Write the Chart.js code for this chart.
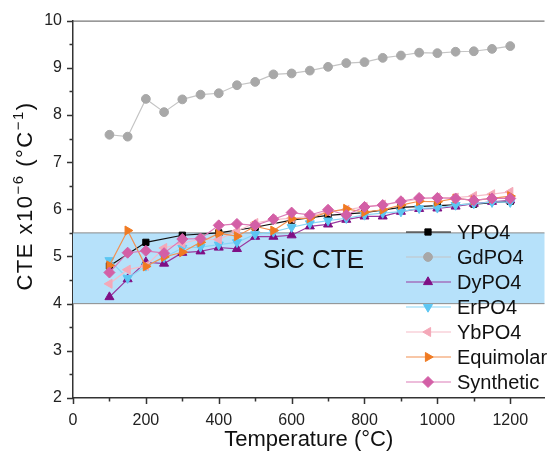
<!DOCTYPE html>
<html>
<head>
<meta charset="utf-8">
<script src="https://cdn.jsdelivr.net/npm/chart.js@4.4.0/dist/chart.umd.min.js"></script>
<style>
  body { margin: 0; background: #fff; }
  #wrap { width: 551px; height: 465px; }
</style>
</head>
<body>
<div id="wrap"><canvas id="cte" width="551" height="465"></canvas></div>
<script>
// temperatures (°C)
const temps = [100, 150, 200, 250, 300, 350, 400, 450, 500, 550, 600, 650,
  700, 750, 800, 850, 900, 950, 1000, 1050, 1100, 1150, 1200];
const tempsYPO4 = [100, 200, 300, 400, 500, 600, 700, 800, 900, 1000, 1100, 1200];

// CTE x10^-6 /°C
const ypo4 = [4.80, 5.30, 5.45, 5.50, 5.62, 5.77, 5.87, 5.93, 6.04, 6.08, 6.11, 6.17];
const gdpo4 = [7.58, 7.54, 8.34, 8.06, 8.33, 8.43, 8.46, 8.63, 8.70, 8.86, 8.88, 8.94,
  9.02, 9.10, 9.12, 9.21, 9.26, 9.32, 9.31, 9.34, 9.35, 9.40, 9.46];
const dypo4 = [4.14, 4.52, 4.88, 4.85, 5.08, 5.11, 5.19, 5.16, 5.42, 5.42, 5.45, 5.64,
  5.68, 5.78, 5.85, 5.85, 5.95, 6.01, 6.02, 6.06, 6.12, 6.16, 6.19];
const erpo4 = [4.92, 4.54, 4.80, 4.98, 5.18, 5.20, 5.25, 5.30, 5.47, 5.52, 5.62, 5.70,
  5.76, 5.81, 5.88, 5.92, 5.95, 6.02, 6.03, 6.09, 6.12, 6.15, 6.15];
const ybpo4 = [4.42, 4.72, 4.80, 5.18, 5.28, 5.37, 5.36, 5.54, 5.71, 5.78, 5.81, 5.85,
  5.95, 5.99, 6.05, 6.10, 6.15, 6.22, 6.25, 6.25, 6.28, 6.32, 6.37];
const equimolar = [4.81, 5.55, 4.79, 4.99, 5.09, 5.30, 5.49, 5.43, 5.64, 5.55, 5.80, 5.81,
  5.94, 6.01, 5.94, 5.99, 6.09, 6.17, 6.16, 6.23, 6.19, 6.23, 6.28];
const synthetic = [4.66, 5.08, 5.12, 5.07, 5.37, 5.38, 5.66, 5.69, 5.66, 5.79, 5.93, 5.88,
  5.99, 5.88, 6.05, 6.09, 6.17, 6.24, 6.24, 6.23, 6.19, 6.23, 6.23];

const sicBand = [4, 5.5];
const sicLabel = 'SiC CTE';
const xTickLabels = [0, 200, 400, 600, 800, 1000, 1200];

const FONT = "'Liberation Sans', Arial, sans-serif";
Chart.defaults.font.family = FONT;
Chart.defaults.color = '#222';

function toPoints(xs, ys) {
  return ys.map((y, i) => ({ x: xs[i], y: y }));
}

function series(label, xs, ys, marker, line, style, rotation, radius, order) {
  return {
    label: label,
    data: toPoints(xs, ys),
    showLine: true,
    borderColor: line,
    borderWidth: 1.2,
    backgroundColor: marker,
    pointBackgroundColor: marker,
    pointBorderColor: marker,
    pointBorderWidth: 1,
    pointStyle: style,
    pointRotation: rotation,
    pointRadius: radius,
    order: order,
  };
}

const datasets = [
  series('YPO4', tempsYPO4, ypo4, '#000000', '#111111', 'rect', 0, 4.4, 7),
  series('GdPO4', temps, gdpo4, '#a8a8a8', '#c4c4c4', 'circle', 0, 4.4, 6),
  series('DyPO4', temps, dypo4, '#7f0f85', '#9a3aa0', 'triangle', 0, 5.2, 5),
  series('ErPO4', temps, erpo4, '#5cc6f2', '#8ad6f5', 'triangle', 180, 5.2, 4),
  series('YbPO4', temps, ybpo4, '#f4a8b8', '#f6bcc8', 'triangle', -90, 5.2, 3),
  series('Equimolar', temps, equimolar, '#f07a22', '#f29050', 'triangle', 90, 5.2, 2),
  series('Synthetic', temps, synthetic, '#d35fa6', '#dc7cb8', 'rectRot', 0, 5.5, 1),
];

// SiC band behind the data
const bandPlugin = {
  id: 'sicBand',
  beforeDatasetsDraw(chart) {
    const { ctx, chartArea, scales } = chart;
    const yTop = scales.y.getPixelForValue(sicBand[1]);
    const yBot = scales.y.getPixelForValue(sicBand[0]);
    ctx.save();
    ctx.fillStyle = '#b6e1fa';
    ctx.fillRect(chartArea.left, yTop, chartArea.right - chartArea.left, yBot - yTop);
    ctx.strokeStyle = '#8a8a8a';
    ctx.lineWidth = 1;
    ctx.beginPath();
    ctx.moveTo(chartArea.left, yTop);
    ctx.lineTo(chartArea.right, yTop);
    ctx.moveTo(chartArea.left, yBot);
    ctx.lineTo(chartArea.right, yBot);
    ctx.stroke();
    ctx.font = '26px ' + FONT;
    ctx.fillStyle = '#111';
    ctx.textAlign = 'center';
    ctx.textBaseline = 'middle';
    ctx.fillText(sicLabel, scales.x.getPixelForValue(660), scales.y.getPixelForValue(4.9));
    ctx.restore();
  }
};

// outward tick marks (major + minor), top frame line, y title with superscripts
const ticksPlugin = {
  id: 'frameTicks',
  afterDraw(chart) {
    const { ctx, chartArea, scales } = chart;
    ctx.save();
    ctx.strokeStyle = '#333';
    ctx.lineWidth = 1.5;
    ctx.beginPath();
    for (let v = 0; v <= 1200; v += 100) {
      const px = Math.round(scales.x.getPixelForValue(v)) + 0.5;
      const len = v % 200 === 0 ? 6 : 3.5;
      ctx.moveTo(px, chartArea.bottom);
      ctx.lineTo(px, chartArea.bottom + len);
    }
    for (let v = 2; v <= 10; v += 0.5) {
      const py = Math.round(scales.y.getPixelForValue(v)) + 0.5;
      const len = v % 1 === 0 ? 6 : 3.5;
      ctx.moveTo(chartArea.left, py);
      ctx.lineTo(chartArea.left - len, py);
    }
    ctx.stroke();
    ctx.lineWidth = 1;
    ctx.strokeStyle = '#555';
    ctx.beginPath();
    ctx.moveTo(chartArea.left, chartArea.top + 0.5);
    ctx.lineTo(chartArea.right, chartArea.top + 0.5);
    ctx.stroke();

    // y axis title: CTE x10^-6 (°C^-1)
    const parts = [['CTE x10', false], ['\u22126', true], [' (°C', false], ['\u22121', true], [')', false]];
    const big = '22px ' + FONT, small = '15px ' + FONT;
    ctx.letterSpacing = '1.5px';
    let total = 0;
    parts.forEach(p => { ctx.font = p[1] ? small : big; total += ctx.measureText(p[0]).width; });
    ctx.translate(32, 196);
    ctx.rotate(-Math.PI / 2);
    ctx.fillStyle = '#111';
    ctx.textAlign = 'left';
    ctx.textBaseline = 'alphabetic';
    let x = -total / 2;
    parts.forEach(p => {
      ctx.font = p[1] ? small : big;
      ctx.fillText(p[0], x, p[1] ? -9 : 0);
      x += ctx.measureText(p[0]).width;
    });
    ctx.restore();
  }
};

// legend drawn inside the plot, lower right
const legendPlugin = {
  id: 'innerLegend',
  afterDraw(chart) {
    const { ctx } = chart;
    ctx.save();
    ctx.font = '20px ' + FONT;
    ctx.textAlign = 'left';
    ctx.textBaseline = 'middle';
    chart.data.datasets.forEach((ds, i) => {
      const y = 232 + i * 25;
      ctx.strokeStyle = ds.borderColor;
      ctx.lineWidth = 1.2;
      ctx.beginPath();
      ctx.moveTo(406, y);
      ctx.lineTo(451, y);
      ctx.stroke();
      ctx.fillStyle = ds.pointBackgroundColor;
      ctx.strokeStyle = ds.pointBorderColor;
      ctx.lineWidth = 1;
      Chart.helpers.drawPoint(ctx, {
        pointStyle: ds.pointStyle,
        rotation: ds.pointRotation,
        radius: ds.pointRadius,
        borderWidth: 1,
      }, 428, y);
      ctx.fillStyle = '#111';
      ctx.fillText(ds.label, 457, y + 1);
    });
    ctx.restore();
  }
};

new Chart(document.getElementById('cte'), {
  type: 'scatter',
  data: { datasets: datasets },
  options: {
    responsive: false,
    animation: false,
    layout: { padding: { top: 11, right: 0, bottom: 0, left: 0 } },
    plugins: {
      legend: { display: false },
      tooltip: { enabled: false },
    },
    scales: {
      x: {
        type: 'linear',
        min: 0,
        max: 1294,
        afterBuildTicks: (axis) => { axis.ticks = xTickLabels.map(v => ({ value: v })); },
        afterFit: (axis) => { axis.height = 67; },
        grid: { display: false, drawTicks: false },
        border: { display: true, color: '#333', width: 1.5 },
        ticks: { padding: 13, font: { size: 16 }, color: '#222', callback: (v) => String(v) },
        title: {
          display: true,
          text: 'Temperature (°C)',
          font: { size: 22 },
          color: '#111',
          padding: { top: 0, bottom: 12 },
        },
      },
      y: {
        min: 2,
        max: 10,
        afterFit: (axis) => { axis.width = 73; },
        grid: { display: false, drawTicks: false },
        border: { display: true, color: '#333', width: 1.5 },
        ticks: { stepSize: 1, padding: 11, font: { size: 16 }, color: '#222' },
        title: { display: false },
      },
    },
  },
  plugins: [bandPlugin, ticksPlugin, legendPlugin],
});
</script>
</body>
</html>
